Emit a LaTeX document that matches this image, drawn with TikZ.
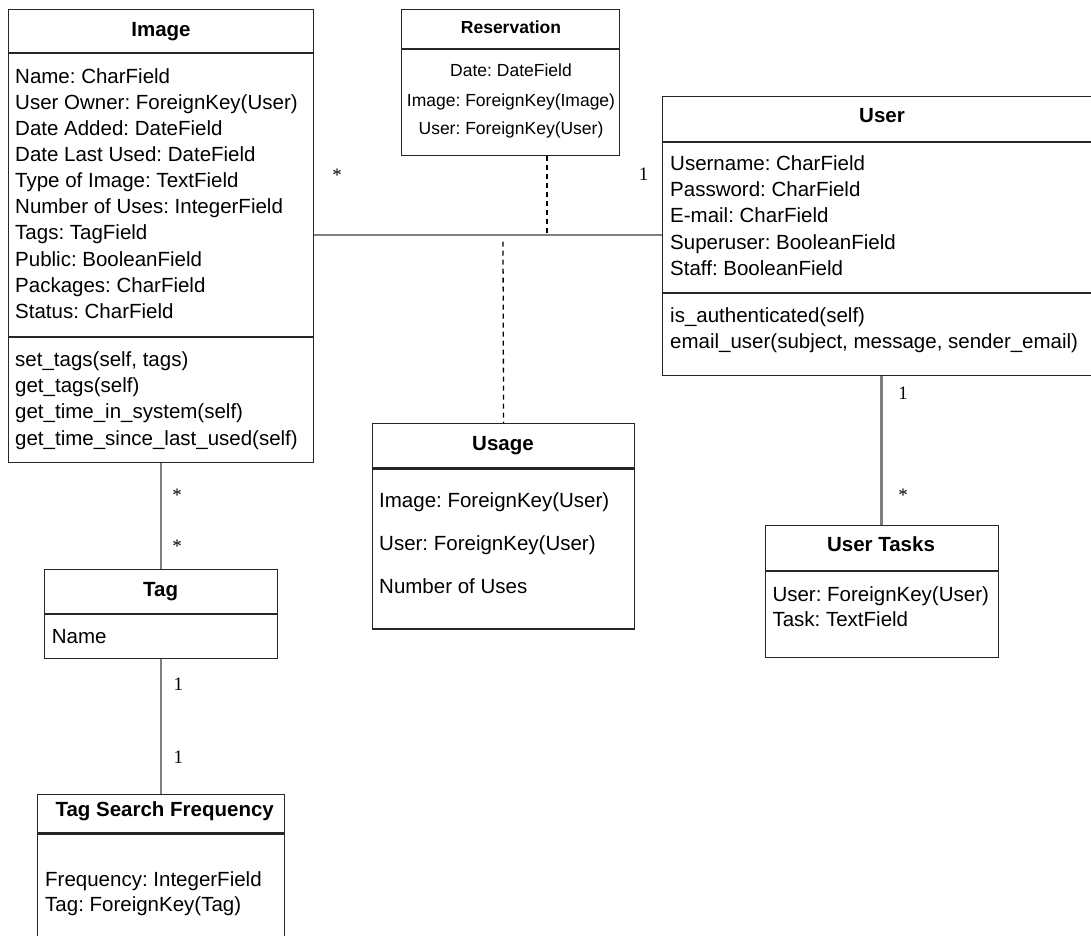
\documentclass[tikz,border=0pt]{standalone}
\usepackage{fontspec}
\setmainfont{Liberation Sans}
\newfontfamily\multfont{Liberation Serif}
\usetikzlibrary{positioning}
\frenchspacing

\tikzset{
    cls/.style={draw=black!85, line width=1.1pt, inner sep=0pt, anchor=north west},
    ttl/.style={font=\bfseries\fontsize{20.5}{24}\selectfont, anchor=base, inner sep=0pt},
    fld/.style={font=\fontsize{20.5}{24}\selectfont, anchor=base west, inner sep=0pt},
    small/.style={font=\fontsize{17.5}{20}\selectfont, anchor=base, inner sep=0pt},
    mult/.style={font=\multfont\fontsize{19}{22}\selectfont, anchor=base, inner sep=0pt},
    assoc/.style={draw=black!50, line width=2.2pt},
    dep/.style={draw=black, line width=1.3pt, dash pattern=on 5pt off 4pt},
}

\begin{document}
\begin{tikzpicture}[x=1pt, y=-1pt]
    \path[fill=white] (0,0) rectangle (1091,935);
    \useasboundingbox (0,0) rectangle (1091,935);

    % Image
    \node[cls, minimum width=305pt, minimum height=43pt] (img) at (8,9) {};
    \node[cls, minimum width=305pt, minimum height=283pt] (img-a) at (img.south west) {};
    \node[cls, minimum width=305pt, minimum height=125pt] (img-o) at (img-a.south west) {};
    \node[ttl] (img-t) at (161,36) {Image};
    \foreach \s [count=\i] in {Name: CharField, User Owner: ForeignKey(User), Date Added: DateField,
        Date Last Used: DateField, Type of Image: TextField, Number of Uses: IntegerField,
        Tags: TagField, Public: BooleanField, Packages: CharField, Status: CharField}
        \node[fld] (img-f\i) at (15,{83.3+26.1*(\i-1)}) {\s};
    \foreach \s [count=\i] in {{set\_tags(self, tags)}, get\_tags(self), get\_time\_in\_system(self),
        get\_time\_since\_last\_used(self)}
        \node[fld] (img-m\i) at (15,{366.7+26.1*(\i-1)}) {\s};

    % Reservation
    \node[cls, minimum width=218pt, minimum height=39pt] (res) at (401,9) {};
    \node[cls, minimum width=218pt, minimum height=106pt] (res-b) at (res.south west) {};
    \node[small, font=\bfseries\fontsize{17.5}{20}\selectfont] (res-t) at (511,33) {Reservation};
    \node[small] (res-f1) at (511,76) {Date: DateField};
    \node[small] (res-f2) at (511,106) {Image: ForeignKey(Image)};
    \node[small] (res-f3) at (511,134) {User: ForeignKey(User)};

    % User
    \node[cls, minimum width=440pt, minimum height=44.7pt] (usr) at (662,96) {};
    \node[cls, minimum width=440pt, minimum height=150.3pt] (usr-a) at (usr.south west) {};
    \node[cls, minimum width=440pt, minimum height=82pt] (usr-o) at (usr-a.south west) {};
    \node[ttl] (usr-t) at (882,122.7) {User};
    \foreach \s [count=\i] in {Username: CharField, Password: CharField, E-mail: CharField,
        Superuser: BooleanField, Staff: BooleanField}
        \node[fld] (usr-f\i) at (670,{170.7+26.1*(\i-1)}) {\s};
    \node[fld] (usr-m1) at (670,322.3) {is\_authenticated(self)};
    \node[fld] (usr-m2) at (670,348.3) {email\_user(subject, message, sender\_email)};

    % Usage
    \node[cls, minimum width=262pt, minimum height=44.3pt] (use) at (372,423) {};
    \node[cls, minimum width=262pt, minimum height=160pt] (use-b) at (use.south west) {};
    \node[ttl] (use-t) at (503,450) {Usage};
    \node[fld] (use-f1) at (379,507.3) {Image: ForeignKey(User)};
    \node[fld] (use-f2) at (379,550.7) {User: ForeignKey(User)};
    \node[fld] (use-f3) at (379,593.3) {Number of Uses};

    % User Tasks
    \node[cls, minimum width=233pt, minimum height=45pt] (ut) at (764.5,525) {};
    \node[cls, minimum width=233pt, minimum height=86pt] (ut-b) at (ut.south west) {};
    \node[ttl] (ut-t) at (881,551.7) {User Tasks};
    \node[fld] (ut-f1) at (772.3,601.7) {User: ForeignKey(User)};
    \node[fld] (ut-f2) at (772.3,626) {Task: TextField};

    % Tag
    \node[cls, minimum width=233.3pt, minimum height=44.2pt] (tag) at (44,568.5) {};
    \node[cls, minimum width=233.3pt, minimum height=44pt] (tag-b) at (tag.south west) {};
    \node[ttl] (tag-t) at (160.7,596) {Tag};
    \node[fld] (tag-f1) at (51.7,643.3) {Name};

    % Tag Search Frequency
    \node[cls, minimum width=247.6pt, minimum height=38pt] (tsf) at (36.7,794.3) {};
    \node[cls, minimum width=247.6pt, minimum height=120pt] (tsf-b) at (tsf.south west) {};
    \node[ttl] (tsf-t) at (164.7,816.7) {Tag Search Frequency};
    \node[fld] (tsf-f1) at (45,886.7) {Frequency: IntegerField};
    \node[fld] (tsf-f2) at (45,911.7) {Tag: ForeignKey(Tag)};

    % connectors
    \coordinate (mid) at (547,235);
    \coordinate (usejoin) at (503,241.5);
    \draw[assoc] (img-a.east |- mid) -- (usr-a.west |- mid);
    \draw[dep] (mid |- res-b.south) -- ([yshift=-2pt]mid);
    \draw[dep] (usejoin) -- (use.north);
    \draw[assoc] (ut.north |- usr-o.south) -- (ut.north);
    \draw[assoc] (tag.north |- img-o.south) -- (tag.north);
    \draw[assoc] (tsf.north |- tag-b.south) -- (tsf.north);

    % multiplicities
    \node[mult] (m-img) at (337,181) {*};
    \node[mult] (m-usr) at (643.5,180.5) {1};
    \node[mult] (m-usr2) at (903,399.5) {1};
    \node[mult] (m-ut) at (903,501) {*};
    \node[mult] (m-img2) at (177,501) {*};
    \node[mult] (m-tag) at (177,552) {*};
    \node[mult] (m-tag2) at (178.3,690.5) {1};
    \node[mult] (m-tsf) at (178.3,763) {1};
\end{tikzpicture}
\end{document}
